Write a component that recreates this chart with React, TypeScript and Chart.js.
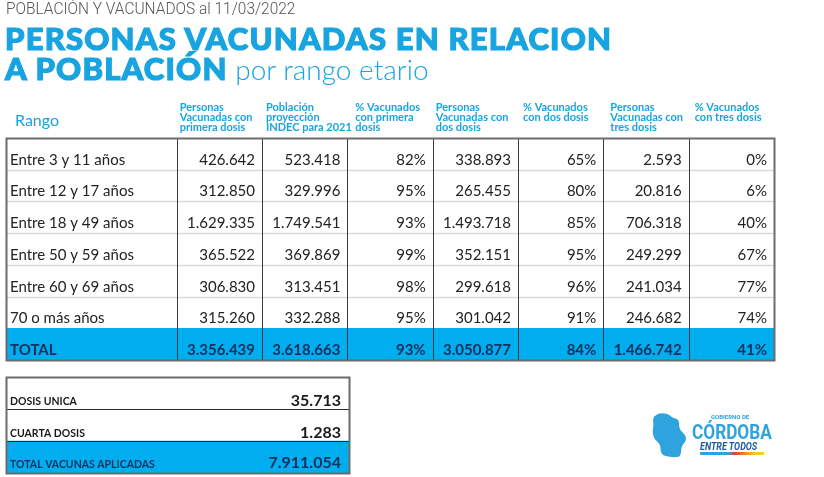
import React, { useEffect, useRef } from "react";
import { Chart, registerables } from "chart.js";

Chart.register(...registerables);

// ---------- DATA ----------
const rangeLabels = [
  "Entre 3 y 11 años",
  "Entre 12 y 17 años",
  "Entre 18 y 49 años",
  "Entre 50 y 59 años",
  "Entre 60 y 69 años",
  "70 o más años",
  "TOTAL",
];
const primeraDosis = [426642, 312850, 1629335, 365522, 306830, 315260, 3356439];
const poblacionIndec = [523418, 329996, 1749541, 369869, 313451, 332288, 3618663];
const pctPrimera = [82, 95, 93, 99, 98, 95, 93];
const dosDosis = [338893, 265455, 1493718, 352151, 299618, 301042, 3050877];
const pctDos = [65, 80, 85, 95, 96, 91, 84];
const tresDosis = [2593, 20816, 706318, 249299, 241034, 246682, 1466742];
const pctTres = [0, 6, 40, 67, 77, 74, 41];

const columnHeaders = [
  ["Rango"],
  ["Personas", "Vacunadas con", "primera dosis"],
  ["Población", "proyección", "INDEC para 2021"],
  ["% Vacunados", "con primera", "dosis"],
  ["Personas", "Vacunadas con", "dos dosis"],
  ["% Vacunados", "con dos dosis"],
  ["Personas", "Vacunadas con", "tres dosis"],
  ["% Vacunados", "con tres dosis"],
];

const extraLabels = ["DOSIS UNICA", "CUARTA DOSIS", "TOTAL VACUNAS APLICADAS"];
const extraValues = [35713, 1283, 7911054];

// ---------- helpers ----------
const fmtNum = (n: number) => String(n).replace(/\B(?=(\d{3})+(?!\d))/g, ".");
const fmtPct = (n: number) => `${n}%`;

const BLUE = "#00adef";
const TITLE_BLUE = "#18a4e0";
const NAVY = "#13305c";
const COL_SPANS = [2, 1, 1, 1, 1, 1, 1, 1];
const HEADER_INSET = [9, 3, 4, 8, 3, 5, 7, 6];

function colEdges() {
  const e = [0];
  COL_SPANS.forEach((s) => e.push(e[e.length - 1] + s));
  return e;
}

const mainTablePlugin = {
  id: "mainTable",
  afterDatasetsDraw(chart: any) {
    const { ctx, scales } = chart;
    const x = scales.x;
    const y = scales.y;
    const n = chart.data.labels.length;
    const step = y.getPixelForValue(1) - y.getPixelForValue(0);
    const rowTop = (i: number) => y.getPixelForValue(i) - step / 2;
    const rowBot = (i: number) => y.getPixelForValue(i) + step / 2;
    const edges = colEdges().map((v) => x.getPixelForValue(v));
    const top = rowTop(0);
    const bottom = rowBot(n - 1);
    const left = edges[0];
    const right = edges[edges.length - 1];

    ctx.save();
    ctx.strokeStyle = "#d9d9d9";
    ctx.lineWidth = 1.5;
    for (let i = 0; i < n - 2; i++) {
      const yy = Math.round(rowBot(i)) + 0.5;
      ctx.beginPath();
      ctx.moveTo(left, yy);
      ctx.lineTo(right, yy);
      ctx.stroke();
    }
    ctx.strokeStyle = "#3a3a3a";
    ctx.lineWidth = 1;
    for (let c = 1; c < edges.length - 1; c++) {
      const xx = Math.round(edges[c]) + 0.5;
      ctx.beginPath();
      ctx.moveTo(xx, top);
      ctx.lineTo(xx, bottom);
      ctx.stroke();
    }
    ctx.strokeStyle = "#6b6b6b";
    ctx.lineWidth = 2;
    ctx.strokeRect(Math.round(left) + 0.5, Math.round(top) + 0.5, right - left, bottom - top);

    // headers
    ctx.fillStyle = TITLE_BLUE;
    ctx.textAlign = "left";
    ctx.textBaseline = "alphabetic";
    columnHeaders.forEach((lines, c) => {
      if (c === 0) {
        ctx.font = "16px Lato";
        ctx.fillText(lines[0], edges[0] + HEADER_INSET[0], top - 12);
      } else {
        ctx.font = "bold 11px Lato";
        lines.forEach((ln, k) => {
          ctx.fillText(ln, edges[c] + HEADER_INSET[c], top - 27 + k * 10);
        });
      }
    });

    const cols: string[][] = [
      primeraDosis.map(fmtNum),
      poblacionIndec.map(fmtNum),
      pctPrimera.map(fmtPct),
      dosDosis.map(fmtNum),
      pctDos.map(fmtPct),
      tresDosis.map(fmtNum),
      pctTres.map(fmtPct),
    ];
    for (let i = 0; i < n; i++) {
      const isTotal = i === n - 1;
      const base = rowBot(i) - 5;
      ctx.fillStyle = isTotal ? NAVY : "#222222";
      ctx.font = isTotal ? "bold 15px Lato" : "15px Lato";
      ctx.textAlign = "left";
      ctx.fillText(chart.data.labels[i], edges[0] + 4, base);
      ctx.textAlign = "right";
      cols.forEach((col, c) => {
        ctx.fillText(col[i], edges[c + 2] - 7, base);
      });
    }
    ctx.restore();
  },
};

const extraTablePlugin = {
  id: "extraTable",
  afterDatasetsDraw(chart: any) {
    const { ctx, scales } = chart;
    const x = scales.x;
    const y = scales.y;
    const n = chart.data.labels.length;
    const step = y.getPixelForValue(1) - y.getPixelForValue(0);
    const rowBot = (i: number) => y.getPixelForValue(i) + step / 2;
    const top = y.getPixelForValue(0) - step / 2;
    const bottom = rowBot(n - 1);
    const left = x.getPixelForValue(0);
    const right = x.getPixelForValue(1);
    ctx.save();
    ctx.strokeStyle = "#2a2a2a";
    ctx.lineWidth = 1;
    for (let i = 0; i < n - 1; i++) {
      const yy = Math.round(rowBot(i)) + 0.5;
      ctx.beginPath();
      ctx.moveTo(left, yy);
      ctx.lineTo(right, yy);
      ctx.stroke();
    }
    ctx.strokeStyle = "#6b6b6b";
    ctx.lineWidth = 2;
    ctx.strokeRect(Math.round(left) + 0.5, Math.round(top) + 0.5, right - left, bottom - top);
    for (let i = 0; i < n; i++) {
      const isTotal = i === n - 1;
      ctx.fillStyle = isTotal ? NAVY : "#1a1a1a";
      ctx.textAlign = "left";
      ctx.font = "bold 10.5px Lato";
      ctx.fillText(chart.data.labels[i], left + 4, rowBot(i) - (isTotal ? 5 : 4));
      ctx.textAlign = "right";
      ctx.font = "bold 16px Lato";
      ctx.fillText(fmtNum(extraValues[i]), right - 8, rowBot(i) - (isTotal ? 5 : 3));
    }
    ctx.restore();
  },
};

export default function App() {
  const mainRef = useRef<HTMLCanvasElement>(null);
  const extraRef = useRef<HTMLCanvasElement>(null);

  useEffect(() => {
    const totalCols = COL_SPANS.reduce((a, b) => a + b, 0);
    const main = new Chart(mainRef.current as HTMLCanvasElement, {
      type: "bar",
      data: {
        labels: rangeLabels,
        datasets: [
          {
            data: rangeLabels.map((_, i) => (i === rangeLabels.length - 1 ? [0, totalCols] : null)) as any,
            backgroundColor: BLUE,
            borderWidth: 0,
            barPercentage: 1,
            categoryPercentage: 1,
          },
        ],
      },
      options: {
        indexAxis: "y",
        responsive: false,
        animation: false,
        devicePixelRatio: 1,
        layout: { padding: { left: 6, top: 138, right: 50, bottom: 117 } },
        scales: {
          x: { type: "linear", min: 0, max: totalCols, display: false },
          y: { type: "category", display: false, offset: true },
        },
        plugins: { legend: { display: false }, tooltip: { enabled: false } },
      },
      plugins: [mainTablePlugin],
    });

    const extra = new Chart(extraRef.current as HTMLCanvasElement, {
      type: "bar",
      data: {
        labels: extraLabels,
        datasets: [
          {
            data: extraLabels.map((_, i) => (i === extraLabels.length - 1 ? [0, 1] : null)) as any,
            backgroundColor: BLUE,
            borderWidth: 0,
            barPercentage: 1,
            categoryPercentage: 1,
          },
        ],
      },
      options: {
        indexAxis: "y",
        responsive: false,
        animation: false,
        devicePixelRatio: 1,
        layout: { padding: { left: 6, top: 7, right: 11, bottom: 4 } },
        scales: {
          x: { type: "linear", min: 0, max: 1, display: false },
          y: { type: "category", display: false, offset: true },
        },
        plugins: { legend: { display: false }, tooltip: { enabled: false } },
      },
      plugins: [extraTablePlugin],
    });

    return () => {
      main.destroy();
      extra.destroy();
    };
  }, []);

  const abs = (s: React.CSSProperties): React.CSSProperties => ({ position: "absolute", whiteSpace: "nowrap", margin: 0, ...s });
  const heavy: React.CSSProperties = {
    font: "900 31px Lato",
    letterSpacing: "1.2px",
    WebkitTextStroke: `1.2px ${TITLE_BLUE}`,
  };

  return (
    <div style={{ position: "fixed", left: 0, top: 0, width: 824, height: 477, background: "#fff", overflow: "hidden" }}>
      <canvas ref={mainRef} width={824} height={477} style={{ position: "absolute", left: 0, top: 0 }} />
      <canvas ref={extraRef} width={360} height={107} style={{ position: "absolute", left: 0, top: 370 }} />

      <div
        style={abs({
          left: 6,
          top: -2,
          font: "300 17px Roboto",
          lineHeight: "20px",
          color: "#555",
          transform: "scaleX(0.91)",
          transformOrigin: "left top",
        })}
      >
        POBLACIÓN Y VACUNADOS al 11/03/2022
      </div>
      <div style={abs({ left: 5, top: 19, lineHeight: "37px", color: TITLE_BLUE, ...heavy })}>
        PERSONAS VACUNADAS EN RELACION
      </div>
      <div style={abs({ left: 5, top: 49, lineHeight: "37px", color: TITLE_BLUE })}>
        <span style={heavy}>A POBLACIÓN</span>
        <span style={{ font: "300 28px Lato" }}> por rango etario</span>
      </div>

      {/* logo */}
      <svg width={36} height={46} viewBox="0 0 34 43" style={{ position: "absolute", left: 651, top: 412 }}>
        <path
          d="M6,2 C10,0 16,1 19,4 C21,6 24,5 26,8 C27,11 26,14 28,17 C30,20 33,21 33,25 C33,28 30,30 29,33 C28,37 29,40 26,42 C22,43 17,42 13,41 C10,40 9,37 9,34 C9,30 6,28 4,26 C2,23 1,19 2,15 C3,11 1,7 3,4 Z"
          fill="#2ea3dd"
        />
      </svg>
      <div style={abs({ left: 711, top: 413, font: "bold 6px Roboto", lineHeight: "7px", color: "#2ea3dd" })}>
        GOBIERNO DE
      </div>
      <div
        style={abs({
          left: 692,
          top: 420,
          font: "bold 21px Roboto",
          lineHeight: "24px",
          color: "#2ea3dd",
          transform: "scaleX(0.82)",
          transformOrigin: "left top",
        })}
      >
        CÓRDOBA
      </div>
      <div
        style={abs({
          left: 700,
          top: 441,
          font: "italic bold 10px Roboto",
          lineHeight: "11px",
          color: "#1f5aa0",
          transform: "scaleX(0.9)",
          transformOrigin: "left top",
        })}
      >
        ENTRE TODOS
      </div>
      <div
        style={abs({
          left: 700,
          top: 452,
          width: 64,
          height: 3,
          background: "linear-gradient(90deg, #2ea3dd 0%, #2ea3dd 45%, #e5402a 55%, #f08a1c 70%, #f6c91a 85%, #f6d21a 100%)",
        })}
      />
    </div>
  );
}
